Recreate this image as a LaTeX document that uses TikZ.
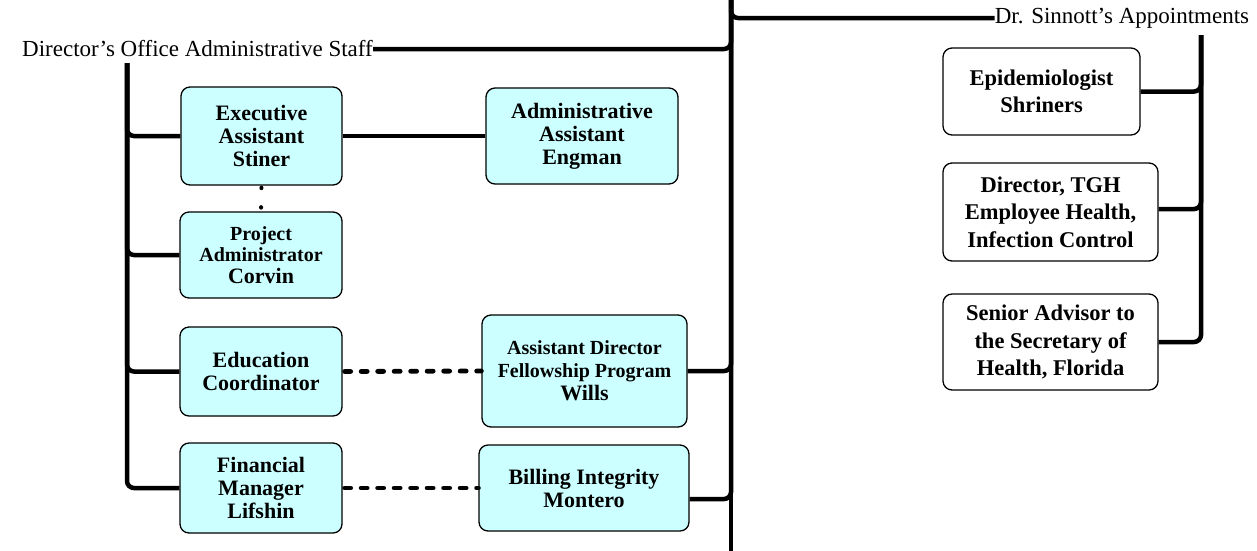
\documentclass[tikz,border=0pt]{standalone}
\usepackage{fontspec}
\setmainfont{Liberation Serif}
\definecolor{boxcyan}{HTML}{CCFFFF}
\begin{document}
\begin{tikzpicture}[x=1pt,y=-1pt,
  conn/.style={line width=4.5pt, rounded corners=7pt},
  dotline/.style={line width=4.8pt, line cap=round, dash pattern=on 6pt off 10.5pt},
  cbox/.style={draw, line width=1.3pt, rounded corners=9pt, fill=boxcyan, align=center, inner sep=0pt, font=\fontsize{22}{23}\selectfont\bfseries},
  wbox/.style={cbox, fill=white, font=\fontsize{22.5}{27.5}\selectfont\bfseries},
  lab/.style={inner sep=0pt, font=\fontsize{23}{26}\selectfont}]
\useasboundingbox (0,0) rectangle (1257,550);

% labels
\node[lab] (dir) at (197.5,49) {Director’s Office Administrative Staff};
\node[lab] (sinn) at (1122,18) {Dr. Sinnott’s Appointments};

% coordinates
\coordinate (mtop) at (731,-10);
\coordinate (mbot) at (731,560);
\coordinate (ltop) at (127,63);
\coordinate (rtop) at (1201,35);

% left boxes
\node[cbox, minimum width=161pt, minimum height=98pt] (exec) at (261.5,136) {Executive\\Assistant\\Stiner};
\node[cbox, minimum width=192pt, minimum height=96pt] (engman) at (582,136) {Administrative\\Assistant\\Engman};
\node[cbox, minimum width=162pt, minimum height=86pt, font=\fontsize{20}{21.7}\selectfont\bfseries] (corvin) at (261,255) {Project\\Administrator\\{\fontsize{22}{21.7}\selectfont Corvin}};
\node[cbox, minimum width=162pt, minimum height=89pt] (educ) at (261,371.5) {Education\\Coordinator};
\node[cbox, minimum width=162pt, minimum height=90pt] (fin) at (261,488) {Financial\\Manager\\Lifshin};
\node[cbox, minimum width=205pt, minimum height=112pt, font=\fontsize{20}{23}\selectfont\bfseries] (wills) at (584.5,371) {Assistant Director\\Fellowship Program\\{\fontsize{22}{23}\selectfont Wills}};
\node[cbox, minimum width=210pt, minimum height=86pt] (billing) at (584,488) {Billing Integrity\\Montero};

% right boxes
\node[wbox, minimum width=197pt, minimum height=87pt] (epi) at (1041.5,91.5) {Epidemiologist\\Shriners};
\node[wbox, minimum width=215pt, minimum height=98pt] (tgh) at (1050.5,212) {Director, TGH\\Employee Health,\\Infection Control};
\node[wbox, minimum width=215pt, minimum height=96pt] (senior) at (1050.5,342) {Senior Advisor to\\the Secretary of\\Health, Florida};

% main trunk
\draw[conn] (mtop) -- (mbot);
\draw[conn] (mtop) |- (dir.east);
\draw[conn] (mtop) |- (sinn.west);
\draw[conn] (mtop) |- (wills.east);
\draw[conn] (mtop) |- ([yshift=-11pt]billing.east);

% left trunk
\draw[conn] (ltop) |- (exec.west);
\draw[conn] (ltop) |- (corvin.west);
\draw[conn] (ltop) |- (educ.west);
\draw[conn] (ltop) |- (fin.west);
\draw[conn] (exec.east) -- (engman.west);

% dotted links
\draw[dotline] ([xshift=2pt]educ.east) -- (wills.west);
\draw[dotline] ([xshift=2pt]fin.east) -- (billing.west);
\draw[line width=4pt, line cap=round, dash pattern=on 0.5pt off 19pt, shorten <=2pt, shorten >=2pt] (exec.south) -- (corvin.north);

% right trunk
\draw[conn] (rtop) |- (epi.east);
\draw[conn] (rtop) |- ([yshift=3pt]tgh.east);
\draw[conn] (rtop) |- (senior.east);
\end{tikzpicture}
\end{document}
